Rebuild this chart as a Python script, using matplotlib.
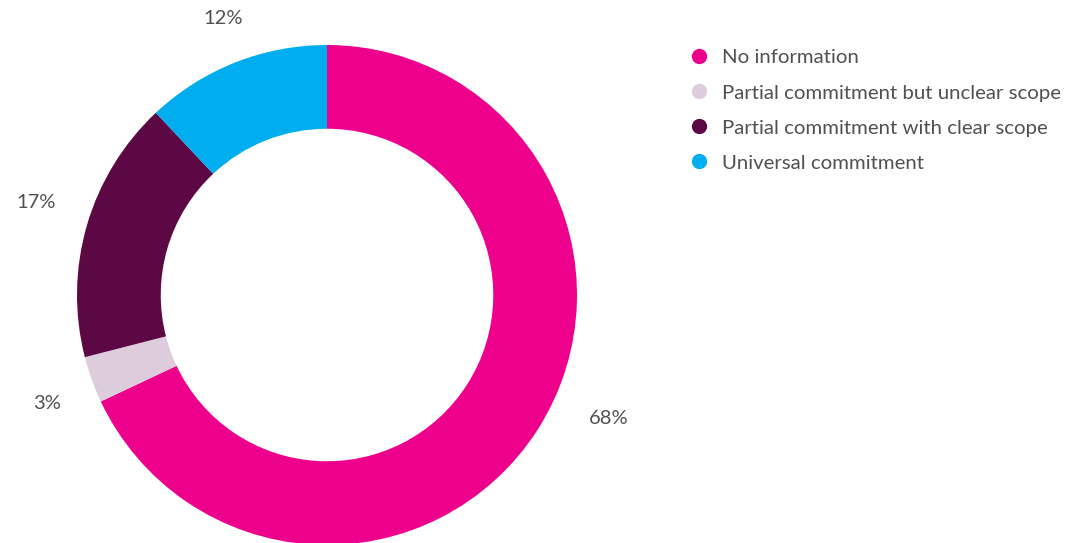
import matplotlib.pyplot as plt
import numpy as np
from matplotlib.lines import Line2D

categories = ['No information', 'Partial commitment but unclear scope',
              'Partial commitment with clear scope', 'Universal commitment']
shares = [68, 3, 17, 12]
colors = ['#EC008C', '#DDCCDC', '#5C0845', '#00AEEF']
text_color = '#505050'

plt.rcParams['font.family'] = ['Lato', 'DejaVu Sans']

fig = plt.figure(figsize=(10.69, 5.43), dpi=100)
W, H = 1069, 543
cx, cy, r = 327, 295, 250
ax = fig.add_axes([(cx - r) / W, (H - cy - r) / H, 2 * r / W, 2 * r / H])

wedges, _ = ax.pie(shares, colors=colors, startangle=90, counterclock=False,
                   radius=1, wedgeprops=dict(width=0.335, linewidth=0))
ax.set_xlim(-1, 1)
ax.set_ylim(-1, 1)
ax.set_aspect('equal')
ax.axis('off')

# percent labels outside the ring (small angle nudges to spread them)
nudge = [0, 1.5, -1.5, -1]
dists = [1.23, 1.2, 1.22, 1.18]
for i, w in enumerate(wedges):
    ang = np.deg2rad((w.theta1 + w.theta2) / 2 + nudge[i])
    if i == 0:
        ang = np.deg2rad(-23.6)
    ax.text(dists[i] * np.cos(ang), dists[i] * np.sin(ang), f'{shares[i]}%',
            ha='center', va='center', fontsize=14.5, color=text_color,
            clip_on=False)

handles = [Line2D([], [], marker='o', linestyle='', markersize=11,
                  markerfacecolor=c, markeredgewidth=0) for c in colors]
fig.legend(handles, categories, loc='upper left',
           bbox_to_anchor=(670 / W, 1 - 41 / H), frameon=False,
           prop=dict(size=14.7), labelcolor=text_color,
           handletextpad=0.15, labelspacing=0.87, borderaxespad=0)

fig.savefig('out.png', dpi=100)
